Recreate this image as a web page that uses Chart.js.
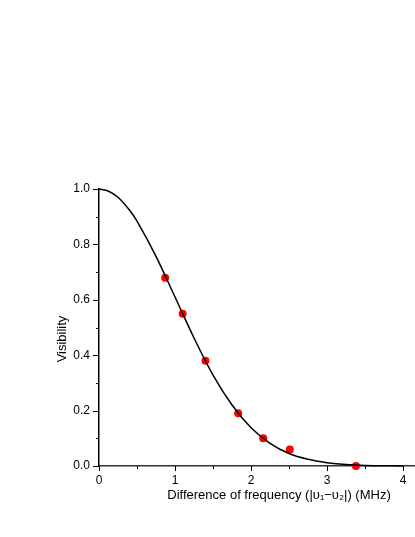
<!DOCTYPE html>
<html>
<head>
<meta charset="utf-8">
<script src="https://cdn.jsdelivr.net/npm/chart.js@4"></script>
<style>
  html, body { margin: 0; padding: 0; background: #fff; overflow: hidden; }
  #wrap { width: 420px; height: 537px; }
</style>
</head>
<body>
<div id="wrap"><canvas id="visChart"></canvas></div>
<script>
// measured points (red dots)
const measFreq = [0.87, 1.10, 1.40, 1.83, 2.16, 2.51, 3.38];
const measVis = [0.68, 0.55, 0.38, 0.19, 0.10, 0.06, 0.00];

// fitted curve
const fitFreq = [0, 0.12, 0.25, 0.4, 0.5, 0.75, 1.0, 1.25, 1.5, 1.75, 2.0, 2.25, 2.5, 2.75, 3.0, 3.25, 3.5, 3.75, 4.0];
const fitVis = [1.0, 0.993, 0.97, 0.924, 0.884, 0.757, 0.61, 0.462, 0.328, 0.22, 0.138, 0.082, 0.045, 0.024, 0.012, 0.005, 0.002, 0.001, 0.0];

const xTitle = 'Difference of frequency (|\u03c5\u2081\u2212\u03c5\u2082|) (MHz)';
const yTitle = 'Visibility';

const FONT = '"Liberation Sans", Arial, sans-serif';

// draws tick marks (major + minor) and axis titles
const axisDeco = {
  id: 'axisDeco',
  afterDraw(chart) {
    const ctx = chart.ctx;
    const xs = chart.scales.x, ys = chart.scales.y;
    ctx.save();
    ctx.strokeStyle = '#000';
    ctx.lineWidth = 1;
    ctx.beginPath();
    xs.ticks.forEach(t => {
      const major = Math.abs(t.value - Math.round(t.value)) < 1e-6;
      const px = Math.round(xs.getPixelForValue(t.value)) + 0.5;
      ctx.moveTo(px, ys.bottom);
      ctx.lineTo(px, ys.bottom + (major ? 5 : 3));
    });
    ys.ticks.forEach(t => {
      const v = Math.round(t.value * 10);
      const major = v % 2 === 0;
      const py = Math.round(ys.getPixelForValue(t.value)) + 0.5;
      ctx.moveTo(xs.left, py);
      ctx.lineTo(xs.left - (major ? 6 : 3), py);
    });
    ctx.stroke();

    ctx.fillStyle = '#000';
    ctx.font = '13px ' + FONT;
    ctx.textAlign = 'center';
    ctx.textBaseline = 'middle';
    ctx.fillText(xTitle, 279, 495);
    ctx.translate(62, 339);
    ctx.rotate(-Math.PI / 2);
    ctx.fillText(yTitle, 0, 0);
    ctx.restore();
  }
};

new Chart(document.getElementById('visChart').getContext('2d'), {
  type: 'scatter',
  data: {
    datasets: [{
      label: 'fit',
      data: fitFreq.map((x, i) => ({ x: x, y: fitVis[i] })),
      showLine: true,
      borderColor: '#000',
      borderWidth: 1.5,
      pointRadius: 0,
      tension: 0.3,
      clip: false
    }, {
      label: 'data',
      data: measFreq.map((x, i) => ({ x: x, y: measVis[i] })),
      backgroundColor: '#ff0000',
      borderColor: '#ff0000',
      borderWidth: 0,
      pointRadius: 4,
      clip: false
    }]
  },
  options: {
    responsive: true,
    maintainAspectRatio: false,
    animation: false,
    layout: { padding: { top: 189, left: 0, right: 0, bottom: 0 } },
    plugins: { legend: { display: false }, tooltip: { enabled: false } },
    scales: {
      x: {
        type: 'linear',
        min: 0,
        max: 4.17,
        afterFit(scale) { scale.height = 71; },
        afterBuildTicks(scale) {
          scale.ticks = [0, 0.5, 1, 1.5, 2, 2.5, 3, 3.5, 4].map(v => ({ value: v }));
        },
        grid: { display: false, drawTicks: false },
        border: { display: true, color: '#333', width: 1.5 },
        ticks: {
          color: '#000',
          font: { family: FONT, size: 12 },
          padding: 7,
          autoSkip: false,
          maxRotation: 0,
          callback: v => (Math.abs(v - Math.round(v)) < 1e-6 ? String(Math.round(v)) : '')
        }
      },
      y: {
        min: 0,
        max: 1,
        afterFit(scale) { scale.width = 99; },
        afterBuildTicks(scale) {
          scale.ticks = [0, 0.1, 0.2, 0.3, 0.4, 0.5, 0.6, 0.7, 0.8, 0.9, 1.0].map(v => ({ value: v }));
        },
        grid: { display: false, drawTicks: false },
        border: { display: true, color: '#000', width: 1.5 },
        ticks: {
          color: '#000',
          font: { family: FONT, size: 12 },
          padding: 9,
          autoSkip: false,
          callback: v => (Math.round(v * 10) % 2 === 0 ? v.toFixed(1) : '')
        }
      }
    }
  },
  plugins: [axisDeco]
});
</script>
</body>
</html>
